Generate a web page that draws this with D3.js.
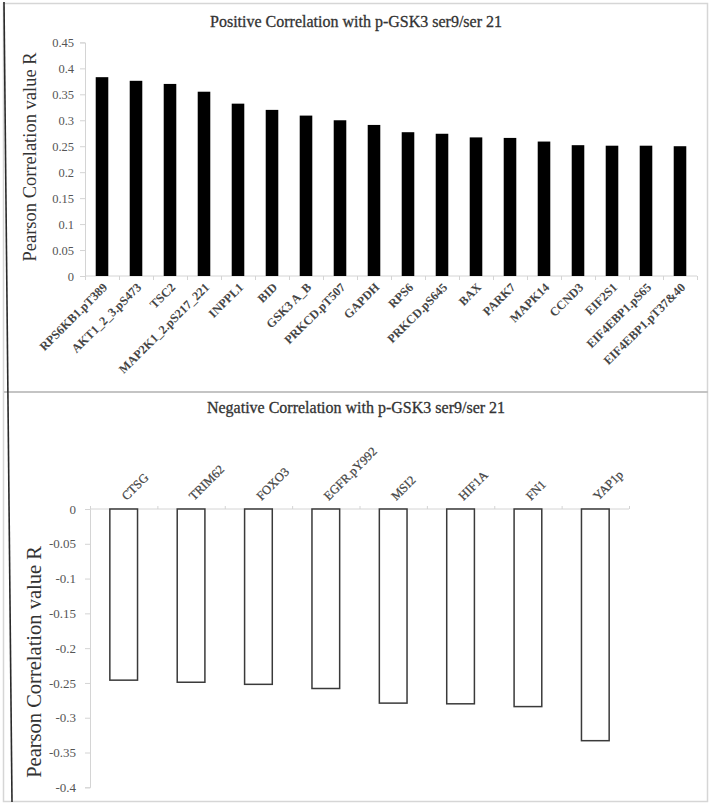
<!DOCTYPE html>
<html>
<head>
<meta charset="utf-8">
<script src="https://cdn.jsdelivr.net/npm/d3@7/dist/d3.min.js"></script>
<style>
  html, body { margin: 0; padding: 0; background: #fff; }
  svg { display: block; }
</style>
</head>
<body>
<svg id="chart" width="711" height="804"></svg>
<script>
// ---------- DATA ----------
const posCategories = ["RPS6KB1.pT389","AKT1_2_3.pS473","TSC2","MAP2K1_2.pS217_221","INPPL1","BID","GSK3 A_B","PRKCD.pT507","GAPDH","RPS6","PRKCD.pS645","BAX","PARK7","MAPK14","CCND3","EIF2S1","EIF4EBP1.pS65","EIF4EBP1.pT37&40"];
const posValues = [0.383,0.376,0.370,0.355,0.332,0.320,0.309,0.300,0.291,0.277,0.274,0.267,0.266,0.259,0.252,0.251,0.251,0.250];
const posTicks = [0,0.05,0.1,0.15,0.2,0.25,0.3,0.35,0.4,0.45];
const posTickLabels = ["0","0.05","0.1","0.15","0.2","0.25","0.3","0.35","0.4","0.45"];

const negCategories = ["CTSG","TRIM62","FOXO3","EGFR.pY992","MSI2","HIF1A","FN1","YAP1p"];
const negValues = [-0.246,-0.249,-0.252,-0.258,-0.279,-0.280,-0.284,-0.333];
const negTicks = [0,-0.05,-0.1,-0.15,-0.2,-0.25,-0.3,-0.35,-0.4];
const negTickLabels = ["0","-0.05","-0.1","-0.15","-0.2","-0.25","-0.3","-0.35","-0.4"];

const titles = ["Positive Correlation with p-GSK3 ser9/ser 21","Negative Correlation with p-GSK3 ser9/ser 21"];
const yTitle = "Pearson Correlation value R";

// ---------- DRAW ----------
const svg = d3.select("#chart");
const serif = "'Liberation Serif','Times New Roman','DejaVu Serif',serif";
const axisGray = "#d4d4d4";
const textGray = "#454545";

// panel frames
svg.append("rect").attr("x",3.5).attr("y",3.5).attr("width",704).attr("height",798)
  .attr("fill","none").attr("stroke","#d6d6d6").attr("stroke-width",1.5);
svg.append("line").attr("x1",4).attr("x2",708).attr("y1",392).attr("y2",392)
  .attr("stroke","#c4c4c4").attr("stroke-width",2);
svg.append("line").attr("x1",4).attr("y1",2).attr("x2",12).attr("y2",802)
  .attr("stroke","#2a2a2a").attr("stroke-width",1.6);

// ===== Top chart =====
const xTop = d3.scaleBand().domain(posCategories).range([85,697]).paddingInner(0.63).paddingOuter(0.315);
const xTopIdx = d3.scaleLinear().domain([0,posCategories.length]).range([85,697]);
const yTop = d3.scaleLinear().domain([0,0.45]).range([276,42.4]);

const gTop = svg.append("g");
gTop.append("text").attr("x",356).attr("y",27).attr("text-anchor","middle")
  .attr("font-family",serif).attr("font-size",16).attr("fill","#333")
  .attr("stroke","#333").attr("stroke-width",0.3)
  .text(titles[0]);

// y axis
const yAxTop = gTop.append("g").attr("transform","translate(85,0)")
  .call(d3.axisLeft(yTop).tickValues(posTicks).tickSize(5).tickPadding(6)
    .tickFormat((d,i)=>posTickLabels[i]));
yAxTop.selectAll("path,line").attr("stroke",axisGray);
yAxTop.selectAll("text").attr("font-family",serif).attr("font-size",12.5).attr("fill","#555");

// x axis ticks at boundaries
const xAxTop = gTop.append("g").attr("transform","translate(0,276)")
  .call(d3.axisBottom(xTopIdx).tickValues(d3.range(posCategories.length+1)).tickSize(4).tickFormat(""));
xAxTop.select("path").attr("stroke",axisGray).attr("d","M85,0H697");
xAxTop.selectAll("line").attr("stroke",axisGray);

// bars
gTop.selectAll("rect.bar").data(posValues).join("rect").attr("class","bar")
  .attr("x",(d,i)=>xTop(posCategories[i]))
  .attr("width",xTop.bandwidth())
  .attr("y",d=>yTop(d))
  .attr("height",d=>yTop(0)-yTop(d))
  .attr("fill","#000");

// x labels
gTop.selectAll("text.xl").data(posCategories).join("text").attr("class","xl")
  .attr("transform",d=>`translate(${xTop(d)+xTop.bandwidth()/2+3},${285}) rotate(-45)`)
  .attr("text-anchor","end").attr("dy","0.35em")
  .attr("font-family",serif).attr("font-size",12.3).attr("font-weight","bold").attr("fill",textGray)
  .text(d=>d);

// y title
gTop.append("text").attr("transform","translate(36,157) rotate(-90)")
  .attr("text-anchor","middle").attr("font-family",serif).attr("font-size",18.5).attr("fill","#333")
  .text(yTitle);

// ===== Bottom chart =====
const xBot = d3.scaleBand().domain(negCategories).range([90,629]).paddingInner(0.589).paddingOuter(0.2945);
const xBotIdx = d3.scaleLinear().domain([0,negCategories.length]).range([90,629]);
const yBot = d3.scaleLinear().domain([-0.4,0]).range([787.3,509]);

const gBot = svg.append("g");
gBot.append("text").attr("x",356).attr("y",413).attr("text-anchor","middle")
  .attr("font-family",serif).attr("font-size",16).attr("fill","#333")
  .attr("stroke","#333").attr("stroke-width",0.3)
  .text(titles[1]);

const yAxBot = gBot.append("g").attr("transform","translate(90,0)")
  .call(d3.axisLeft(yBot).tickValues(negTicks).tickSize(5).tickPadding(9)
    .tickFormat((d,i)=>negTickLabels[i]));
yAxBot.selectAll("path,line").attr("stroke",axisGray);
yAxBot.selectAll("text").attr("font-family",serif).attr("font-size",13).attr("fill","#555");

const xAxBot = gBot.append("g").attr("transform","translate(0,509)")
  .call(d3.axisTop(xBotIdx).tickValues(d3.range(negCategories.length+1)).tickSize(3).tickFormat(""));
xAxBot.select("path").attr("stroke",axisGray).attr("d","M90,0H629");
xAxBot.selectAll("line").attr("stroke",axisGray);

gBot.selectAll("rect.bar").data(negValues).join("rect").attr("class","bar")
  .attr("x",(d,i)=>xBot(negCategories[i]))
  .attr("width",xBot.bandwidth())
  .attr("y",yBot(0))
  .attr("height",d=>yBot(d)-yBot(0))
  .attr("fill","#fff").attr("stroke","#3a3a3a").attr("stroke-width",1.5);

gBot.selectAll("text.xl").data(negCategories).join("text").attr("class","xl")
  .attr("transform",d=>`translate(${xBot(d)+xBot.bandwidth()/2+3},${501}) rotate(-45)`)
  .attr("text-anchor","start")
  .attr("font-family",serif).attr("font-size",12.5).attr("fill",textGray)
  .attr("stroke",textGray).attr("stroke-width",0.25)
  .text(d=>d);

gBot.append("text").attr("transform","translate(41,662) rotate(-90)")
  .attr("text-anchor","middle").attr("font-family",serif).attr("font-size",20.5).attr("fill","#333")
  .text(yTitle);
</script>
</body>
</html>
